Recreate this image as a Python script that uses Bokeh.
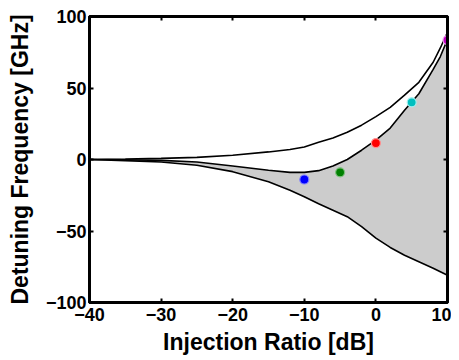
from bokeh.plotting import figure
from bokeh.models import LinearAxis, FixedTicker, Range1d
from bokeh.embed import file_html
from bokeh.resources import INLINE

# Injection ratio grid [dB]
x_curve = [-40, -35, -30, -25, -20, -15, -12, -10, -8, -6, -4, -2, 0, 2, 4, 6, 8, 9, 10]
# Upper boundary curve [GHz]
upper = [0, 0.3, 0.8, 1.5, 3.0, 5.3, 7.0, 8.8, 12.0, 15.0, 19.0, 24.0, 30.0, 36.5, 45.0, 54.0, 68.0, 78.0, 89.0]
# Middle curve (top of shaded region) [GHz]
middle = [0, -0.2, -0.6, -1.8, -4.5, -7.5, -9.0, -9.0, -7.8, -4.5, 0.0, 6.5, 13.5, 22.0, 34.5, 46.0, 63.0, 72.0, 84.0]
# Lower boundary curve [GHz]
lower = [0, -0.8, -1.8, -4.0, -8.5, -15.5, -21.5, -26.0, -31.0, -35.5, -40.0, -47.0, -55.0, -61.5, -67.0, -71.5, -76.0, -78.5, -81.0]

# Operating points
pt_x = [-10, -5, 0, 5, 10]
pt_y = [-14, -9, 11.5, 40, 83.5]
pt_colors = ["#0000FF", "#008000", "#FF0000", "#00BFBF", "#BF00BF"]
pt_edge = ["#8080FF", "#80C080", "#FF9090", "#A0F0F0", "#F0A0F0"]

x_ticks = [-40, -30, -20, -10, 0, 10]
y_ticks = [-100, -50, 0, 50, 100]

FONT = "Liberation Sans"

p = figure(width=451, height=352, output_backend="svg", toolbar_location=None,
           x_range=Range1d(-40, 10), y_range=Range1d(-100, 100),
           min_border_left=89, min_border_right=4, min_border_top=16, min_border_bottom=50,
           frame_width=358, frame_height=286)

p.xgrid.visible = False
p.ygrid.visible = False
p.outline_line_color = "black"
p.outline_line_width = 3
p.background_fill_color = "white"
p.border_fill_color = "white"

p.varea(x=x_curve, y1=lower, y2=middle, fill_color="#CCCCCC")
p.line(x_curve, upper, line_color="black", line_width=1.6)
p.line(x_curve, middle, line_color="black", line_width=1.6)
p.line(x_curve, lower, line_color="black", line_width=1.6)
p.scatter(pt_x, pt_y, size=9, fill_color=pt_colors, line_color=pt_edge, line_width=1.2)

for ax, ticks in ((p.xaxis[0], x_ticks), (p.yaxis[0], y_ticks)):
    ax.ticker = FixedTicker(ticks=ticks)
    ax.major_tick_in = 4
    ax.major_tick_out = 0
    ax.minor_tick_line_color = None
    ax.major_tick_line_width = 2
    ax.axis_line_width = 3
    ax.major_label_text_font = FONT
    ax.major_label_text_font_style = "bold"
    ax.major_label_text_font_size = "18px"
    ax.major_label_text_color = "black"
    ax.axis_label_text_font = FONT
    ax.axis_label_text_font_style = "bold"
    ax.axis_label_text_font_size = "23px"
    ax.axis_label_text_color = "black"

p.xaxis[0].axis_label = "Injection Ratio [dB]"
p.yaxis[0].axis_label = "Detuning Frequency [GHz]"
p.xaxis[0].major_label_standoff = 5
p.yaxis[0].major_label_standoff = 3
p.xaxis[0].axis_label_standoff = 5
p.yaxis[0].axis_label_standoff = 10

top = LinearAxis(ticker=FixedTicker(ticks=x_ticks), major_tick_in=4, major_tick_out=0,
                 minor_tick_line_color=None, major_label_text_font_size="0px",
                 major_tick_line_width=2, axis_line_width=3)
right = LinearAxis(ticker=FixedTicker(ticks=y_ticks), major_tick_in=4, major_tick_out=0,
                   minor_tick_line_color=None, major_label_text_font_size="0px",
                   major_tick_line_width=2, axis_line_width=3)
top.major_label_text_color = None
right.major_label_text_color = None
p.add_layout(top, "above")
p.add_layout(right, "right")

open("out.html", "w").write(file_html(p, INLINE))
